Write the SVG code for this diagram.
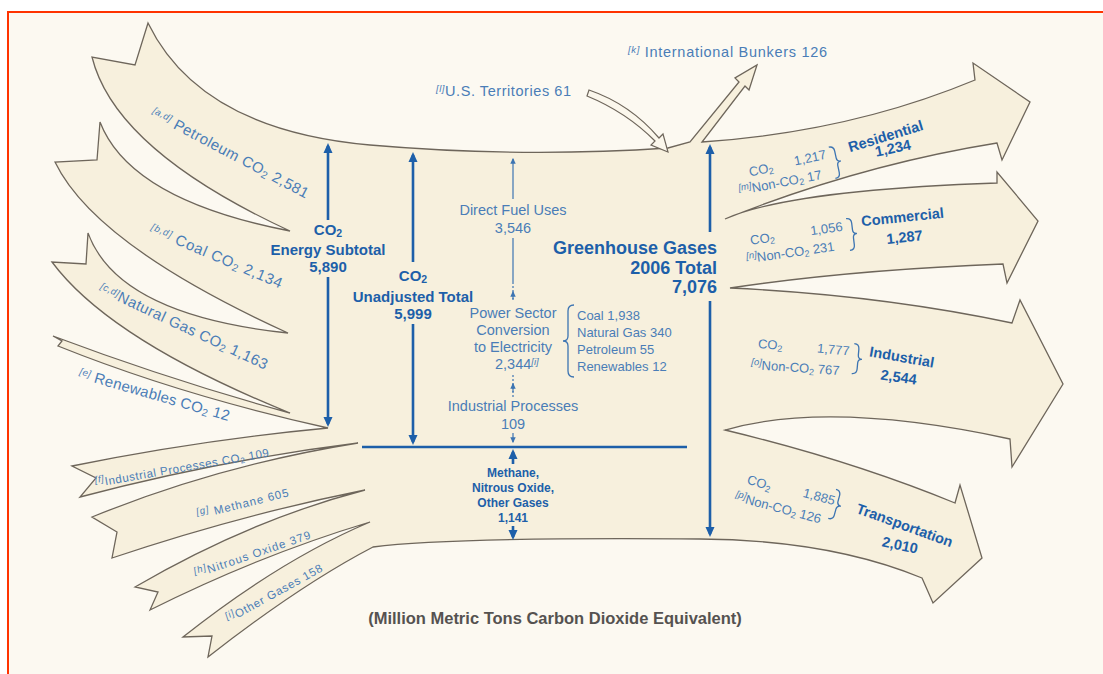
<svg xmlns="http://www.w3.org/2000/svg" width="1103" height="674" viewBox="0 0 1103 674">
<defs>
<style>
.flow{fill:#f7f0dd;stroke:#6e665b;stroke-width:1.3;stroke-linejoin:miter}
.hollow{fill:#fbf7ec;stroke:#6e665b;stroke-width:1.2;stroke-linejoin:miter}
.t{font-family:"Liberation Sans",Arial,sans-serif;fill:#4a7db7}
.b{font-family:"Liberation Sans",Arial,sans-serif;font-weight:bold;fill:#1d5fa9}
.sup{font-style:italic;font-size:9.5px;baseline-shift:4px}
.sub{font-size:70%;baseline-shift:-2px}
.ax{stroke:#1d5fa9;stroke-width:2.6;fill:none}
.ax2{stroke:#3c74b2;stroke-width:1.2;fill:none}
.br{stroke:#3c74b2;stroke-width:1.3;fill:none}
.mid{text-anchor:middle}
</style>
<marker id="ah" viewBox="0 0 10 10" refX="7" refY="5" markerUnits="userSpaceOnUse" markerWidth="10" markerHeight="10" orient="auto"><path d="M0,0.5 L10,5 L0,9.5 z" fill="#1d5fa9"/></marker>
<marker id="ahs" viewBox="0 0 10 10" refX="8" refY="5" markerUnits="userSpaceOnUse" markerWidth="6" markerHeight="6" orient="auto"><path d="M0,0.5 L10,5 L0,9.5 z" fill="#3c74b2"/></marker>
</defs>
<rect x="0" y="0" width="1103" height="674" fill="#ffffff"/>
<rect x="8" y="12" width="1110" height="680" fill="#fcf9f1" stroke="#ff3300" stroke-width="2"/>

<g id="flow-bands">
<path class="flow" d="M148,23 Q200,130 370,145 Q520,158 668,148 L690,142 L739,82 L735,78 L757,65 L749,90 L745,86 L702,142 Q850,132 975,80 L973,63 L1030,102 L1002,160 L997,143 Q860,165 725,219 Q790,190 997,183 L997,172 L1038,221 L1007,283 L1003,264 Q850,270 730,288 Q880,295 1012,323 L1020,300 L1063,384 L1012,467 L1010,439 Q830,400 725,430 Q850,460 955,503 L960,485 L982,558 L933,603 L922,578 Q830,540 700,539 Q450,537 373,547 Q300,585 208,657 L212,636 L183,637 Q280,560 370,522 Q260,555 150,610 L158,592 L135,587 Q250,520 365,490 Q240,515 112,558 L117,532 L92,517 Q220,465 358,443 Q220,460 80,497 L96,478 L72,466 Q200,440 328,428 Q180,395 58,346 L62,341 L53,336 Q170,380 290,413 Q110,340 52,262 L86,264 L88,233 Q118,315 288,333 Q95,245 55,162 L97,160 L100,122 Q130,200 290,231 Q115,150 92,57 L135,65 Z"/>
</g>

<g id="us-territories">
<path class="hollow" d="M589,90 Q630,104 659,138 L663,134 L668,152 L651,145 L655,141 Q626,112 587,96 Z"/>
<text class="t" font-size="14.5" x="436" y="96" textLength="135" lengthAdjust="spacing"><tspan class="sup">[l]</tspan>U.S. Territories  61</text>
</g>

<g id="international-bunkers">
<text class="t" font-size="14.5" x="628" y="57" textLength="199" lengthAdjust="spacing"><tspan class="sup">[k]</tspan> International Bunkers  126</text>
</g>

<g id="connectors">
<line class="ax" x1="328" y1="220" x2="328" y2="146" marker-end="url(#ah)"/>
<line class="ax" x1="328" y1="277" x2="328" y2="424" marker-end="url(#ah)"/>
<line class="ax" x1="413" y1="262" x2="413" y2="155" marker-end="url(#ah)"/>
<line class="ax" x1="413" y1="324" x2="413" y2="442" marker-end="url(#ah)"/>
<line class="ax" x1="710" y1="232" x2="710" y2="147" marker-end="url(#ah)"/>
<line class="ax" x1="710" y1="301" x2="710" y2="534" marker-end="url(#ah)"/>
<line class="ax" x1="362" y1="447" x2="687" y2="447"/>
<line class="ax" x1="513" y1="464" x2="513" y2="452" marker-end="url(#ah)"/>
<line class="ax" x1="513" y1="526" x2="513" y2="537" marker-end="url(#ah)"/>
<line class="ax2" x1="513" y1="199" x2="513" y2="159" marker-end="url(#ahs)"/>
<line class="ax2" x1="513" y1="238" x2="513" y2="284"/>
<line class="ax2" x1="513" y1="286" x2="513" y2="300" stroke-dasharray="2 2"/>
<line class="ax2" x1="513" y1="299" x2="513" y2="292" marker-end="url(#ahs)"/>
<line class="ax2" x1="513" y1="375" x2="513" y2="397" stroke-dasharray="2 2"/>
<line class="ax2" x1="513" y1="392" x2="513" y2="384" marker-end="url(#ahs)"/>
<line class="ax2" x1="513" y1="433" x2="513" y2="442" marker-end="url(#ahs)"/>
</g>

<g id="energy-subtotal">
<text class="b mid" font-size="15" x="328" y="235">CO<tspan class="sub">2</tspan></text>
<text class="b mid" font-size="15" x="328" y="255">Energy Subtotal</text>
<text class="b mid" font-size="15" x="328" y="272">5,890</text>
</g>
<g id="unadjusted-total">
<text class="b mid" font-size="15" x="413" y="281">CO<tspan class="sub">2</tspan></text>
<text class="b mid" font-size="15" x="413" y="302">Unadjusted Total</text>
<text class="b mid" font-size="15" x="413" y="319">5,999</text>
</g>
<g id="ghg-total">
<text class="b" font-size="18" x="717" y="254" text-anchor="end">Greenhouse Gases</text>
<text class="b" font-size="18" x="717" y="274" text-anchor="end">2006 Total</text>
<text class="b" font-size="18" x="717" y="293" text-anchor="end">7,076</text>
</g>

<g id="direct-fuel">
<text class="t mid" font-size="14.5" x="513" y="215">Direct Fuel Uses</text>
<text class="t mid" font-size="14.5" x="513" y="233">3,546</text>
</g>
<g id="power-sector">
<text class="t mid" font-size="14.5" x="513" y="318">Power Sector</text>
<text class="t mid" font-size="14.5" x="513" y="335">Conversion</text>
<text class="t mid" font-size="14.5" x="513" y="352">to Electricity</text>
<text class="t" font-size="14.5" x="495" y="369">2,344<tspan class="sup">[i]</tspan></text>
<path class="br" d="M574,305 Q568,305 568,311 L568,336 Q568,341 563,341 Q568,341 568,346 L568,371 Q568,377 574,377"/>
<text class="t" font-size="13" x="577" y="320">Coal  1,938</text>
<text class="t" font-size="13" x="577" y="337">Natural Gas  340</text>
<text class="t" font-size="13" x="577" y="354">Petroleum  55</text>
<text class="t" font-size="13" x="577" y="371">Renewables  12</text>
</g>
<g id="industrial-processes">
<text class="t mid" font-size="14.5" x="513" y="411">Industrial Processes</text>
<text class="t mid" font-size="14.5" x="513" y="429">109</text>
</g>
<g id="other-gases-total">
<text class="b mid" font-size="12" x="513" y="477">Methane,</text>
<text class="b mid" font-size="12" x="513" y="492">Nitrous Oxide,</text>
<text class="b mid" font-size="12" x="513" y="507">Other Gases</text>
<text class="b mid" font-size="12" x="513" y="522">1,141</text>
</g>

<g id="petroleum">
<text class="t" font-size="15" x="150" y="116" transform="rotate(28 150 116)" textLength="176" lengthAdjust="spacing"><tspan class="sup">[a,d]</tspan> Petroleum CO<tspan class="sub">2</tspan>  2,581</text>
</g>
<g id="coal">
<text class="t" font-size="15" x="149" y="233" transform="rotate(23 149 233)" textLength="142" lengthAdjust="spacing"><tspan class="sup">[b,d]</tspan> Coal CO<tspan class="sub">2</tspan>  2,134</text>
</g>
<g id="natural-gas">
<text class="t" font-size="15" x="98" y="292" transform="rotate(25 98 292)" textLength="184" lengthAdjust="spacing"><tspan class="sup">[c,d]</tspan>Natural Gas CO<tspan class="sub">2</tspan>  1,163</text>
</g>
<g id="renewables">
<text class="t" font-size="15" x="78" y="378" transform="rotate(16 78 378)" textLength="156" lengthAdjust="spacing"><tspan class="sup">[e]</tspan> Renewables CO<tspan class="sub">2</tspan>  12</text>
</g>
<g id="industrial-processes-co2">
<text class="t" font-size="11.5" x="96" y="487" transform="rotate(-10 96 487)" textLength="176" lengthAdjust="spacing"><tspan class="sup" font-size="8.5">[f]</tspan>Industrial Processes CO<tspan class="sub">2</tspan>  109</text>
</g>
<g id="methane">
<text class="t" font-size="11.5" x="198" y="519" transform="rotate(-14 198 519)" textLength="94" lengthAdjust="spacing"><tspan class="sup" font-size="8.5">[g]</tspan> Methane  605</text>
</g>
<g id="nitrous-oxide">
<text class="t" font-size="11.5" x="196" y="578" transform="rotate(-19 196 578)" textLength="122" lengthAdjust="spacing"><tspan class="sup" font-size="8.5">[h]</tspan>Nitrous Oxide  379</text>
</g>
<g id="other-gases">
<text class="t" font-size="11.5" x="229" y="623" transform="rotate(-29 229 623)" textLength="108" lengthAdjust="spacing"><tspan class="sup" font-size="8.5">[i]</tspan>Other Gases  158</text>
</g>

<g id="residential">
<text class="t mid" font-size="13" x="762" y="174" transform="rotate(-12 762 174)">CO<tspan class="sub">2</tspan></text>
<text class="t mid" font-size="13" x="811" y="162" transform="rotate(-12 811 162)">1,217</text>
<text class="t mid" font-size="13" x="781" y="187" transform="rotate(-11 781 187)"><tspan class="sup">[m]</tspan>Non-CO<tspan class="sub">2</tspan>  17</text>
<path class="br" transform="rotate(-12 836 162)" d="M832,146 Q837,146 837,151 L837,158 Q837,162 841,162 Q837,162 837,166 L837,173 Q837,178 832,178"/>
<text class="b mid" font-size="14.5" x="887" y="141" transform="rotate(-17 887 141)">Residential</text>
<text class="b mid" font-size="14.5" x="894" y="153" transform="rotate(-12 894 153)">1,234</text>
</g>
<g id="commercial">
<text class="t mid" font-size="13" x="763" y="243" transform="rotate(-8 763 243)">CO<tspan class="sub">2</tspan></text>
<text class="t mid" font-size="13" x="827" y="233" transform="rotate(-8 827 233)">1,056</text>
<text class="t mid" font-size="13" x="791" y="257" transform="rotate(-8 791 257)"><tspan class="sup">[n]</tspan>Non-CO<tspan class="sub">2</tspan>  231</text>
<path class="br" transform="rotate(-7 852 234)" d="M848,218 Q853,218 853,223 L853,230 Q853,234 857,234 Q853,234 853,238 L853,245 Q853,250 848,250"/>
<text class="b mid" font-size="14.5" x="903" y="222" transform="rotate(-6 903 222)">Commercial</text>
<text class="b mid" font-size="14.5" x="905" y="242" transform="rotate(-6 905 242)">1,287</text>
</g>
<g id="industrial">
<text class="t mid" font-size="13" x="770" y="349" transform="rotate(5 770 349)">CO<tspan class="sub">2</tspan></text>
<text class="t mid" font-size="13" x="833" y="354" transform="rotate(5 833 354)">1,777</text>
<text class="t mid" font-size="13" x="795" y="372" transform="rotate(4 795 372)"><tspan class="sup">[o]</tspan>Non-CO<tspan class="sub">2</tspan>  767</text>
<path class="br" transform="rotate(5 857 359)" d="M853,344 Q858,344 858,349 L858,355 Q858,359 862,359 Q858,359 858,363 L858,369 Q858,374 853,374"/>
<text class="b mid" font-size="14.5" x="901" y="362" transform="rotate(10 901 362)">Industrial</text>
<text class="b mid" font-size="14.5" x="898" y="382" transform="rotate(8 898 382)">2,544</text>
</g>
<g id="transportation">
<text class="t mid" font-size="13" x="758" y="487" transform="rotate(18 758 487)">CO<tspan class="sub">2</tspan></text>
<text class="t mid" font-size="13" x="818" y="501" transform="rotate(15 818 501)">1,885</text>
<text class="t mid" font-size="13" x="777" y="512" transform="rotate(15 777 512)"><tspan class="sup">[p]</tspan>Non-CO<tspan class="sub">2</tspan>  126</text>
<path class="br" transform="rotate(15 836 505)" d="M832,490 Q837,490 837,495 L837,501 Q837,505 841,505 Q837,505 837,509 L837,515 Q837,520 832,520"/>
<text class="b mid" font-size="14.5" x="903" y="530" transform="rotate(20 903 530)">Transportation</text>
<text class="b mid" font-size="14.5" x="899" y="550" transform="rotate(12 899 550)">2,010</text>
</g>

<g id="caption">
<text font-family="Liberation Sans, Arial, sans-serif" font-weight="bold" font-size="16.5" fill="#555250" x="555" y="624" text-anchor="middle">(Million Metric Tons Carbon Dioxide Equivalent)</text>
</g>
</svg>
